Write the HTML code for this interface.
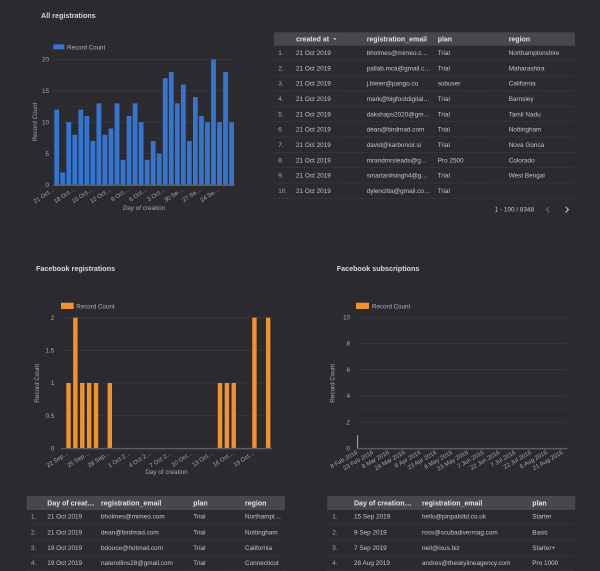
<!DOCTYPE html>
<html><head><meta charset="utf-8"><style>
html,body{margin:0;padding:0;background:#2b2a2f;}
svg{display:block;font-family:"Liberation Sans",sans-serif;}
.t{fill:#dadada;font-weight:bold;font-size:7.2px;}
.yl{fill:#a9a9ad;font-size:6.3px;text-anchor:end;}
.xl{fill:#a9a9ad;font-size:6px;text-anchor:end;}
.at{fill:#a9a9ad;font-size:6.3px;text-anchor:middle;}
.lg{fill:#b5b5b8;font-size:6.2px;}
.g{stroke:#3b3a3f;stroke-width:0.8;}
.gm{stroke:#343338;stroke-width:0.7;}
.ax{stroke:#5e5d62;stroke-width:1.5;}
.th{fill:#e2e2e2;font-weight:bold;font-size:7px;}
.td{fill:#c6c6c8;font-size:6.4px;}
.tn{fill:#a8a8aa;font-size:6.4px;}
.sep{stroke:#414045;stroke-width:0.7;stroke-dasharray:1.5,1;}
</style></head><body>
<svg width="600" height="571" viewBox="0 0 600 571" xmlns="http://www.w3.org/2000/svg">
<rect width="600" height="571" fill="#2b2a2f"/>

<!-- ===== Chart 1: All registrations ===== -->
<text class="t" x="41" y="17.8">All registrations</text>
<rect x="53.3" y="44.3" width="11" height="5" fill="#3575d0"/>
<text class="lg" x="67" y="49.3">Record Count</text>
<g>
<line class="g" x1="53.5" y1="59.4" x2="234.5" y2="59.4"/>
<line class="gm" x1="53.5" y1="75.1" x2="234.5" y2="75.1"/>
<line class="g" x1="53.5" y1="90.8" x2="234.5" y2="90.8"/>
<line class="gm" x1="53.5" y1="106.5" x2="234.5" y2="106.5"/>
<line class="g" x1="53.5" y1="122.2" x2="234.5" y2="122.2"/>
<line class="gm" x1="53.5" y1="137.9" x2="234.5" y2="137.9"/>
<line class="g" x1="53.5" y1="153.6" x2="234.5" y2="153.6"/>
<line class="gm" x1="53.5" y1="169.3" x2="234.5" y2="169.3"/>
</g>
<text class="yl" x="49" y="61.6">20</text>
<text class="yl" x="49" y="93">15</text>
<text class="yl" x="49" y="124.4">10</text>
<text class="yl" x="49" y="155.8">5</text>
<text class="yl" x="49" y="187.2">0</text>
<g fill="#3575d0">
<rect x="54.3" y="109.64" width="4.8" height="75.36"/>
<rect x="60.33" y="172.44" width="4.8" height="12.56"/>
<rect x="66.36" y="122.2" width="4.8" height="62.8"/>
<rect x="72.39" y="134.76" width="4.8" height="50.24"/>
<rect x="78.42" y="109.64" width="4.8" height="75.36"/>
<rect x="84.45" y="115.92" width="4.8" height="69.08"/>
<rect x="90.48" y="141.04" width="4.8" height="43.96"/>
<rect x="96.51" y="103.36" width="4.8" height="81.64"/>
<rect x="102.54" y="134.76" width="4.8" height="50.24"/>
<rect x="108.57" y="128.48" width="4.8" height="56.52"/>
<rect x="114.6" y="103.36" width="4.8" height="81.64"/>
<rect x="120.63" y="159.88" width="4.8" height="25.12"/>
<rect x="126.66" y="115.92" width="4.8" height="69.08"/>
<rect x="132.69" y="103.36" width="4.8" height="81.64"/>
<rect x="138.72" y="122.2" width="4.8" height="62.8"/>
<rect x="144.75" y="159.88" width="4.8" height="25.12"/>
<rect x="150.78" y="141.04" width="4.8" height="43.96"/>
<rect x="156.81" y="153.6" width="4.8" height="31.4"/>
<rect x="162.84" y="78.24" width="4.8" height="106.76"/>
<rect x="168.87" y="71.96" width="4.8" height="113.04"/>
<rect x="174.9" y="103.36" width="4.8" height="81.64"/>
<rect x="180.93" y="84.52" width="4.8" height="100.48"/>
<rect x="186.96" y="141.04" width="4.8" height="43.96"/>
<rect x="192.99" y="97.08" width="4.8" height="87.92"/>
<rect x="199.02" y="115.92" width="4.8" height="69.08"/>
<rect x="205.05" y="122.2" width="4.8" height="62.8"/>
<rect x="211.08" y="59.4" width="4.8" height="125.6"/>
<rect x="217.11" y="122.2" width="4.8" height="62.8"/>
<rect x="223.14" y="71.96" width="4.8" height="113.04"/>
<rect x="229.17" y="122.2" width="4.8" height="62.8"/>
</g>
<line class="ax" x1="53.3" y1="185.3" x2="234.8" y2="185.3"/>
<text class="xl" transform="translate(55,190.5) rotate(-33)">21 Oct…</text>
<text class="xl" transform="translate(75.3,190.5) rotate(-33)">18 Oct…</text>
<text class="xl" transform="translate(93.4,190.5) rotate(-33)">15 Oct…</text>
<text class="xl" transform="translate(111.5,190.5) rotate(-33)">12 Oct…</text>
<text class="xl" transform="translate(129.6,190.5) rotate(-33)">9 Oct…</text>
<text class="xl" transform="translate(147.7,190.5) rotate(-33)">6 Oct…</text>
<text class="xl" transform="translate(165.7,190.5) rotate(-33)">3 Oct…</text>
<text class="xl" transform="translate(183.8,190.5) rotate(-33)">30 Se…</text>
<text class="xl" transform="translate(201.9,190.5) rotate(-33)">27 Se…</text>
<text class="xl" transform="translate(220,190.5) rotate(-33)">24 Se…</text>
<text class="at" x="144" y="210" font-style="italic">Day of creation</text>
<text class="at" transform="translate(37.2,122) rotate(-90)" font-style="italic">Record Count</text>

<!-- ===== Table 1 ===== -->
<rect x="274" y="32.3" width="301" height="13.4" fill="#48474c"/>
<text class="th" x="296" y="41.6">created at</text>
<path d="M333.2,38.3 L336.4,38.3 L334.8,40.2 Z" fill="#cfcfcf"/>
<text class="th" x="366.7" y="41.6">registration_email</text>
<text class="th" x="437.7" y="41.6">plan</text>
<text class="th" x="508.7" y="41.6">region</text>
<g>
<text class="tn" x="278.3" y="55">1.</text><text class="td" x="296" y="55">21 Oct 2019</text><text class="td" x="366.7" y="55">bholmes@mimeo.c…</text><text class="td" x="437.7" y="55">Trial</text><text class="td" x="508.7" y="55">Northamptonshire</text>
<line class="sep" x1="274" y1="60.4" x2="575" y2="60.4"/>
<text class="tn" x="278.3" y="70.3">2.</text><text class="td" x="296" y="70.3">21 Oct 2019</text><text class="td" x="366.7" y="70.3">pallab.mca@gmail.c…</text><text class="td" x="437.7" y="70.3">Trial</text><text class="td" x="508.7" y="70.3">Maharashtra</text>
<line class="sep" x1="274" y1="75.7" x2="575" y2="75.7"/>
<text class="tn" x="278.3" y="85.6">3.</text><text class="td" x="296" y="85.6">21 Oct 2019</text><text class="td" x="366.7" y="85.6">j.bleier@pango.co</text><text class="td" x="437.7" y="85.6">subuser</text><text class="td" x="508.7" y="85.6">California</text>
<line class="sep" x1="274" y1="91" x2="575" y2="91"/>
<text class="tn" x="278.3" y="101">4.</text><text class="td" x="296" y="101">21 Oct 2019</text><text class="td" x="366.7" y="101">mark@bigfootdigital…</text><text class="td" x="437.7" y="101">Trial</text><text class="td" x="508.7" y="101">Barnsley</text>
<line class="sep" x1="274" y1="106.4" x2="575" y2="106.4"/>
<text class="tn" x="278.3" y="116.3">5.</text><text class="td" x="296" y="116.3">21 Oct 2019</text><text class="td" x="366.7" y="116.3">dakshaps2020@gm…</text><text class="td" x="437.7" y="116.3">Trial</text><text class="td" x="508.7" y="116.3">Tamil Nadu</text>
<line class="sep" x1="274" y1="121.7" x2="575" y2="121.7"/>
<text class="tn" x="278.3" y="131.6">6.</text><text class="td" x="296" y="131.6">21 Oct 2019</text><text class="td" x="366.7" y="131.6">dean@birdmad.com</text><text class="td" x="437.7" y="131.6">Trial</text><text class="td" x="508.7" y="131.6">Nottingham</text>
<line class="sep" x1="274" y1="137" x2="575" y2="137"/>
<text class="tn" x="278.3" y="147">7.</text><text class="td" x="296" y="147">21 Oct 2019</text><text class="td" x="366.7" y="147">david@karbonoir.si</text><text class="td" x="437.7" y="147">Trial</text><text class="td" x="508.7" y="147">Nova Gorica</text>
<line class="sep" x1="274" y1="152.4" x2="575" y2="152.4"/>
<text class="tn" x="278.3" y="162.3">8.</text><text class="td" x="296" y="162.3">21 Oct 2019</text><text class="td" x="366.7" y="162.3">mrandmrsleads@g…</text><text class="td" x="437.7" y="162.3">Pro 2500</text><text class="td" x="508.7" y="162.3">Colorado</text>
<line class="sep" x1="274" y1="167.7" x2="575" y2="167.7"/>
<text class="tn" x="278.3" y="177.6">9.</text><text class="td" x="296" y="177.6">21 Oct 2019</text><text class="td" x="366.7" y="177.6">smartanilsingh4@g…</text><text class="td" x="437.7" y="177.6">Trial</text><text class="td" x="508.7" y="177.6">West Bengal</text>
<line class="sep" x1="274" y1="183" x2="575" y2="183"/>
<text class="tn" x="278.3" y="193">10.</text><text class="td" x="296" y="193">21 Oct 2019</text><text class="td" x="366.7" y="193">dylencitta@gmail.co…</text><text class="td" x="437.7" y="193">Trial</text>
<line class="sep" x1="274" y1="198.4" x2="575" y2="198.4"/>
</g>
<text class="td" x="494.7" y="211.3" fill="#b8b8ba">1 - 100 / 8348</text>
<polyline points="549.2,206.8 546.4,209.6 549.2,212.4" fill="none" stroke="#6e6d72" stroke-width="1"/>
<polyline points="565.6,206.8 568.4,209.6 565.6,212.4" fill="none" stroke="#d0d0d2" stroke-width="1"/>

<!-- ===== Chart 2: Facebook registrations ===== -->
<text class="t" x="36" y="271">Facebook registrations</text>
<rect x="61" y="302.7" width="12.7" height="6.3" fill="#f0922e"/>
<text class="lg" x="76.3" y="308.3">Record Count</text>
<g>
<line class="g" x1="61" y1="317.7" x2="271.7" y2="317.7"/>
<line class="gm" x1="61" y1="334" x2="271.7" y2="334"/>
<line class="g" x1="61" y1="350.3" x2="271.7" y2="350.3"/>
<line class="gm" x1="61" y1="366.7" x2="271.7" y2="366.7"/>
<line class="g" x1="61" y1="383" x2="271.7" y2="383"/>
<line class="gm" x1="61" y1="399.3" x2="271.7" y2="399.3"/>
<line class="g" x1="61" y1="415.7" x2="271.7" y2="415.7"/>
<line class="gm" x1="61" y1="432" x2="271.7" y2="432"/>
</g>
<text class="yl" x="54.3" y="319.9">2</text>
<text class="yl" x="54.3" y="352.5">1.5</text>
<text class="yl" x="54.3" y="385.2">1</text>
<text class="yl" x="54.3" y="417.9">0.5</text>
<text class="yl" x="54.3" y="450.5">0</text>
<g fill="#f0922e">
<rect x="66.3" y="383" width="4.4" height="65.3"/>
<rect x="73.19" y="317.7" width="4.4" height="130.6"/>
<rect x="80.07" y="383" width="4.4" height="65.3"/>
<rect x="86.96" y="383" width="4.4" height="65.3"/>
<rect x="93.84" y="383" width="4.4" height="65.3"/>
<rect x="107.62" y="383" width="4.4" height="65.3"/>
<rect x="217.79" y="383" width="4.4" height="65.3"/>
<rect x="224.68" y="383" width="4.4" height="65.3"/>
<rect x="231.56" y="383" width="4.4" height="65.3"/>
<rect x="252.22" y="317.7" width="4.4" height="130.6"/>
<rect x="266" y="317.7" width="4.4" height="130.6"/>
</g>
<line class="ax" x1="61" y1="448.6" x2="271.9" y2="448.6"/>
<text class="xl" transform="translate(69,454) rotate(-33)">22 Sep…</text>
<text class="xl" transform="translate(89.7,454) rotate(-33)">25 Sep…</text>
<text class="xl" transform="translate(110.3,454) rotate(-33)">28 Sep…</text>
<text class="xl" transform="translate(131,454) rotate(-33)">1 Oct 2…</text>
<text class="xl" transform="translate(151.6,454) rotate(-33)">4 Oct 2…</text>
<text class="xl" transform="translate(172.3,454) rotate(-33)">7 Oct 2…</text>
<text class="xl" transform="translate(193,454) rotate(-33)">10 Oct…</text>
<text class="xl" transform="translate(213.6,454) rotate(-33)">13 Oct…</text>
<text class="xl" transform="translate(234.3,454) rotate(-33)">16 Oct…</text>
<text class="xl" transform="translate(254.9,454) rotate(-33)">19 Oct…</text>
<text class="at" x="166.5" y="474">Day of creation</text>
<text class="at" transform="translate(38.9,383.3) rotate(-90)">Record Count</text>

<!-- ===== Chart 3: Facebook subscriptions ===== -->
<text class="t" x="336.7" y="271">Facebook subscriptions</text>
<rect x="356" y="302.7" width="13" height="6.3" fill="#f0922e"/>
<text class="lg" x="372" y="308.3">Record Count</text>
<g>
<line class="g" x1="356.7" y1="317.3" x2="567.3" y2="317.3"/>
<line class="gm" x1="356.7" y1="330.4" x2="567.3" y2="330.4"/>
<line class="g" x1="356.7" y1="343.5" x2="567.3" y2="343.5"/>
<line class="gm" x1="356.7" y1="356.6" x2="567.3" y2="356.6"/>
<line class="g" x1="356.7" y1="369.7" x2="567.3" y2="369.7"/>
<line class="gm" x1="356.7" y1="382.8" x2="567.3" y2="382.8"/>
<line class="g" x1="356.7" y1="395.9" x2="567.3" y2="395.9"/>
<line class="gm" x1="356.7" y1="409" x2="567.3" y2="409"/>
<line class="g" x1="356.7" y1="422.1" x2="567.3" y2="422.1"/>
<line class="gm" x1="356.7" y1="435.2" x2="567.3" y2="435.2"/>
</g>
<text class="yl" x="350" y="319.5">10</text>
<text class="yl" x="350" y="345.7">8</text>
<text class="yl" x="350" y="371.9">6</text>
<text class="yl" x="350" y="398.1">4</text>
<text class="yl" x="350" y="424.3">2</text>
<text class="yl" x="350" y="450.5">0</text>
<rect x="357" y="435.2" width="1.1" height="13.1" fill="#f0922e"/>
<line class="ax" x1="356.7" y1="448.6" x2="567.5" y2="448.6"/>
<text class="xl" transform="translate(358,453.5) rotate(-30)">8 Feb 2016</text>
<text class="xl" transform="translate(373.8,453.5) rotate(-30)">23 Feb 2016</text>
<text class="xl" transform="translate(389.6,453.5) rotate(-30)">9 Mar 2016</text>
<text class="xl" transform="translate(405.4,453.5) rotate(-30)">24 Mar 2016</text>
<text class="xl" transform="translate(421.2,453.5) rotate(-30)">8 Apr 2016</text>
<text class="xl" transform="translate(437,453.5) rotate(-30)">23 Apr 2016</text>
<text class="xl" transform="translate(452.8,453.5) rotate(-30)">8 May 2016</text>
<text class="xl" transform="translate(468.6,453.5) rotate(-30)">23 May 2016</text>
<text class="xl" transform="translate(484.4,453.5) rotate(-30)">7 Jun 2016</text>
<text class="xl" transform="translate(500.2,453.5) rotate(-30)">22 Jun 2016</text>
<text class="xl" transform="translate(516,453.5) rotate(-30)">7 Jul 2016</text>
<text class="xl" transform="translate(531.8,453.5) rotate(-30)">22 Jul 2016</text>
<text class="xl" transform="translate(547.6,453.5) rotate(-30)">6 Aug 2016</text>
<text class="xl" transform="translate(563.3,453.5) rotate(-30)">21 Aug 2016</text>
<text class="at" transform="translate(334.5,383.3) rotate(-90)">Record Count</text>

<!-- ===== Table 3 (bottom left) ===== -->
<rect x="26.7" y="496" width="258.3" height="14" fill="#48474c"/>
<text class="th" x="47.3" y="505.7">Day of creat…</text>
<text class="th" x="101" y="505.7">registration_email</text>
<text class="th" x="193.3" y="505.7">plan</text>
<text class="th" x="245" y="505.7">region</text>
<text class="tn" x="31" y="518.5">1.</text><text class="td" x="47.3" y="518.5">21 Oct 2019</text><text class="td" x="101" y="518.5">bholmes@mimeo.com</text><text class="td" x="193.3" y="518.5">Trial</text><text class="td" x="245" y="518.5">Northampt…</text>
<line class="sep" x1="26.7" y1="524.7" x2="285" y2="524.7"/>
<text class="tn" x="31" y="534.3">2.</text><text class="td" x="47.3" y="534.3">21 Oct 2019</text><text class="td" x="101" y="534.3">dean@birdmad.com</text><text class="td" x="193.3" y="534.3">Trial</text><text class="td" x="245" y="534.3">Nottingham</text>
<line class="sep" x1="26.7" y1="540" x2="285" y2="540"/>
<text class="tn" x="31" y="549.8">3.</text><text class="td" x="47.3" y="549.8">19 Oct 2019</text><text class="td" x="101" y="549.8">bdouce@hotmail.com</text><text class="td" x="193.3" y="549.8">Trial</text><text class="td" x="245" y="549.8">California</text>
<line class="sep" x1="26.7" y1="555.3" x2="285" y2="555.3"/>
<text class="tn" x="31" y="564.9">4.</text><text class="td" x="47.3" y="564.9">19 Oct 2019</text><text class="td" x="101" y="564.9">naterollins28@gmail.com</text><text class="td" x="193.3" y="564.9">Trial</text><text class="td" x="245" y="564.9">Connecticut</text>
<line class="sep" x1="26.7" y1="570.3" x2="285" y2="570.3"/>

<!-- ===== Table 4 (bottom right) ===== -->
<rect x="327.3" y="496" width="248" height="14" fill="#48474c"/>
<text class="th" x="354" y="505.7">Day of creation…</text>
<text class="th" x="422" y="505.7">registration_email</text>
<text class="th" x="532.3" y="505.7">plan</text>
<text class="tn" x="332.3" y="518.5">1.</text><text class="td" x="354" y="518.5">15 Sep 2019</text><text class="td" x="422" y="518.5">hello@pinpalsltd.co.uk</text><text class="td" x="532.3" y="518.5">Starter</text>
<line class="sep" x1="327.3" y1="524.7" x2="575.3" y2="524.7"/>
<text class="tn" x="332.3" y="534.3">2.</text><text class="td" x="354" y="534.3">9 Sep 2019</text><text class="td" x="422" y="534.3">ross@scubadivermag.com</text><text class="td" x="532.3" y="534.3">Basic</text>
<line class="sep" x1="327.3" y1="540" x2="575.3" y2="540"/>
<text class="tn" x="332.3" y="549.8">3.</text><text class="td" x="354" y="549.8">7 Sep 2019</text><text class="td" x="422" y="549.8">neil@ixus.biz</text><text class="td" x="532.3" y="549.8">Starter+</text>
<line class="sep" x1="327.3" y1="555.3" x2="575.3" y2="555.3"/>
<text class="tn" x="332.3" y="564.9">4.</text><text class="td" x="354" y="564.9">28 Aug 2019</text><text class="td" x="422" y="564.9">andres@theskylineagency.com</text><text class="td" x="532.3" y="564.9">Pro 1000</text>
<line class="sep" x1="327.3" y1="570.3" x2="575.3" y2="570.3"/>
</svg>
</body></html>
